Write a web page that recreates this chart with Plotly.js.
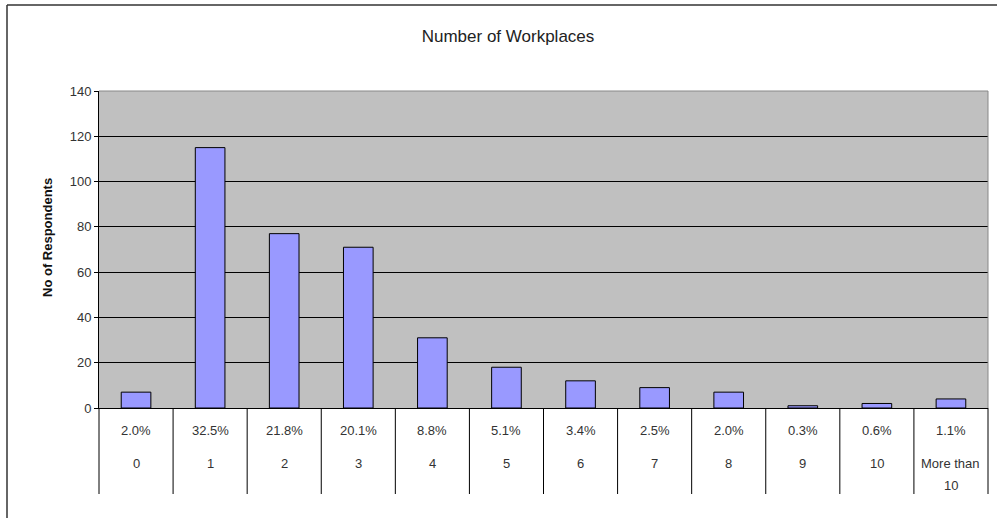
<!DOCTYPE html>
<html>
<head>
<meta charset="utf-8">
<script src="https://cdn.plot.ly/plotly-3.0.1.min.js"></script>
<style>html,body{margin:0;padding:0;background:#fff;}#chart{width:997px;height:518px;}</style>
</head>
<body>
<div id="chart"></div>
<script>
const categories = ["0","1","2","3","4","5","6","7","8","9","10","More than<br>10"];
const respondents = [7, 115, 77, 71, 31, 18, 12, 9, 7, 1, 2, 4];
const percentLabels = ["2.0%","32.5%","21.8%","20.1%","8.8%","5.1%","3.4%","2.5%","2.0%","0.3%","0.6%","1.1%"];
const yTicks = [0, 20, 40, 60, 80, 100, 120, 140];

const W = 997, H = 518;
const M = {l: 99, r: 9, t: 91, b: 110};
const PW = W - M.l - M.r, PH = H - M.t - M.b;
const px2x = px => (px - M.l) / PW;
const py2y = py => (H - M.b - py) / PH;

const FONT = "Liberation Sans, Arial, sans-serif";
const textColor = "#333";

const shapes = [];
const annotations = [];
const n = categories.length;
// table vertical separators
for (let i = 0; i <= n; i++) {
  shapes.push({type: "line", xref: "paper", yref: "paper",
    x0: i / n, x1: i / n, y0: 0, y1: py2y(494),
    line: {color: "#000", width: 1}});
}
// gray top and right plot border
shapes.push({type: "line", xref: "paper", yref: "paper", x0: 0, x1: 1, y0: 1, y1: 1, line: {color: "#888", width: 1}});
shapes.push({type: "line", xref: "paper", yref: "paper", x0: 1, x1: 1, y0: 0, y1: 1, line: {color: "#888", width: 1}});
// outer sheet frame lines
shapes.push({type: "line", xref: "paper", yref: "paper", x0: px2x(7), x1: px2x(997), y0: py2y(5), y1: py2y(5), line: {color: "#333", width: 1.5}});
shapes.push({type: "line", xref: "paper", yref: "paper", x0: px2x(7), x1: px2x(7), y0: py2y(5), y1: py2y(518), line: {color: "#333", width: 1.5}});

categories.forEach((c, i) => {
  annotations.push({xref: "x", yref: "paper", x: i, y: py2y(430), yanchor: "middle",
    text: percentLabels[i], showarrow: false, font: {family: FONT, size: 13, color: textColor}});
  c.split("<br>").forEach((line, j) => {
    annotations.push({xref: "x", yref: "paper", x: i, y: py2y(463 + 22 * j), yanchor: "middle",
      text: line, showarrow: false, font: {family: FONT, size: 13, color: textColor}});
  });
});
// y-axis title
annotations.push({xref: "paper", yref: "paper", x: px2x(47), y: py2y(238), xanchor: "center", yanchor: "middle",
  textangle: -90, text: "<b>No of Respondents</b>", showarrow: false,
  font: {family: FONT, size: 13, color: "#111"}});

const trace = {
  type: "bar",
  x: categories.map((c, i) => i),
  y: respondents,
  width: 0.4,
  marker: {color: "#9999FF", line: {color: "#000", width: 1}},
  hoverinfo: "y"
};

const layout = {
  width: W, height: H,
  margin: M,
  paper_bgcolor: "#fff",
  plot_bgcolor: "#C0C0C0",
  showlegend: false,
  font: {family: FONT, size: 13, color: textColor},
  title: {text: "Number of Workplaces", x: 508 / W, xref: "container", xanchor: "center",
    y: 1 - 36 / H, yref: "container", yanchor: "middle",
    font: {family: FONT, size: 17, color: "#222"}},
  xaxis: {range: [-0.5, n - 0.5], showticklabels: false, ticks: "", showgrid: false,
    zeroline: false, showline: true, linecolor: "#000", linewidth: 1, fixedrange: true},
  yaxis: {range: [0, 140], tickvals: yTicks, ticktext: yTicks.map(String),
    ticks: "outside", ticklen: 4, tickcolor: "#000", showline: true, linecolor: "#000", linewidth: 1,
    showgrid: true, gridcolor: "#000", gridwidth: 1, zeroline: false,
    tickfont: {family: FONT, size: 13, color: textColor},
    fixedrange: true},
  shapes: shapes,
  annotations: annotations
};

Plotly.newPlot("chart", [trace], layout, {displayModeBar: false, staticPlot: true});
</script>
</body>
</html>
